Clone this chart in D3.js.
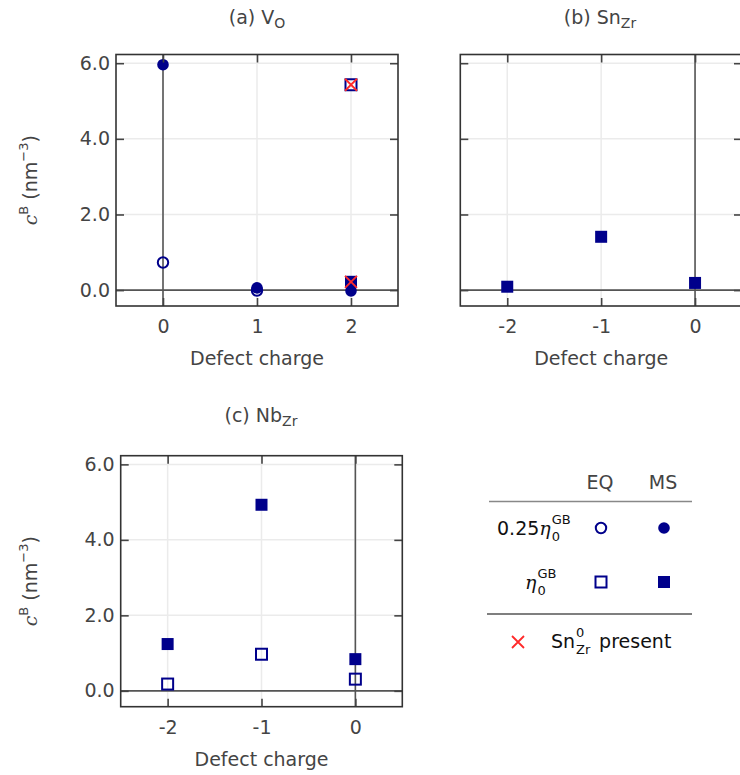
<!DOCTYPE html>
<html>
<head>
<meta charset="utf-8">
<script src="https://cdn.jsdelivr.net/npm/d3@7"></script>
<style>
  body { margin: 0; background: #fff; }
  svg { display: block; font-family: "DejaVu Sans", sans-serif; }
</style>
</head>
<body>
<svg id="chart"></svg>
<script>
// values
const yTicks = [0, 2, 4, 6]

const voCharges = [0, 1, 2]
const voEqQuarter = [0.73, -0.01, null]
const voMsQuarter = [5.96, 0.06, -0.02]
const voEqFull = [null, null, 5.43]
const voMsFull = [null, null, 0.22]
const voSnPresent = [null, null, 5.43]
const voSnPresent2 = [null, null, 0.22]

const snCharges = [-2, -1, 0]
const snMsFull = [0.09, 1.41, 0.19]

const nbCharges = [-2, -1, 0]
const nbEqFull = [0.18, 0.97, 0.31]
const nbMsFull = [1.24, 4.93, 0.84]

const navy = '#00008b'
const red = '#ff2a2a'
const textCol = '#444'
const fs = '19px'
const fsSmall = '13px'

const width = 740
const height = 775
const svg = d3.select('#chart').attr('width', width).attr('height', height)

const drawMarker = (g, kind, cx, cy) => {
    if (kind === 'circle-open') {
        g.append('circle').attr('cx', cx).attr('cy', cy).attr('r', 5.2)
            .attr('fill', 'none').attr('stroke', navy).attr('stroke-width', 2)
    } else if (kind === 'circle') {
        g.append('circle').attr('cx', cx).attr('cy', cy).attr('r', 5.8)
            .attr('fill', navy)
    } else if (kind === 'square-open') {
        g.append('rect').attr('x', cx - 5.5).attr('y', cy - 5.5).attr('width', 11).attr('height', 11)
            .attr('fill', 'none').attr('stroke', navy).attr('stroke-width', 2)
    } else if (kind === 'square') {
        g.append('rect').attr('x', cx - 6).attr('y', cy - 6).attr('width', 12).attr('height', 12)
            .attr('fill', navy)
    } else if (kind === 'cross') {
        g.append('path').attr('d', `M${cx-6},${cy-6}L${cx+6},${cy+6}M${cx-6},${cy+6}L${cx+6},${cy-6}`)
            .attr('stroke', red).attr('stroke-width', 1.8).attr('fill', 'none')
    }
}

const drawPanel = (p) => {
    const xScale = d3.scaleLinear().domain(p.xDomain).range([p.left, p.right])
    const yScale = d3.scaleLinear().domain([-0.42, 6.23]).range([p.bottom, p.top])
    const g = svg.append('g')

    // grid
    g.selectAll('.gx').data(p.xTicks).enter().append('line')
        .attr('x1', d => xScale(d)).attr('x2', d => xScale(d))
        .attr('y1', p.top).attr('y2', p.bottom)
        .attr('stroke', '#ebebeb').attr('stroke-width', 1.5)
    g.selectAll('.gy').data(yTicks).enter().append('line')
        .attr('x1', p.left).attr('x2', p.right)
        .attr('y1', d => yScale(d)).attr('y2', d => yScale(d))
        .attr('stroke', '#ebebeb').attr('stroke-width', 1.5)

    // zero lines
    g.append('line').attr('x1', p.left).attr('x2', p.right)
        .attr('y1', yScale(0)).attr('y2', yScale(0))
        .attr('stroke', '#555').attr('stroke-width', 1.6)
    g.append('line').attr('x1', xScale(0)).attr('x2', xScale(0))
        .attr('y1', p.top).attr('y2', p.bottom)
        .attr('stroke', '#555').attr('stroke-width', 1.6)

    // markers
    p.series.forEach(s => {
        s.values.forEach((v, i) => {
            if (v === null) return
            drawMarker(g, s.kind, xScale(p.charges[i]), yScale(v))
        })
    })

    // axes with inward ticks
    const fmtX = d => String(d)
    const bottom = g.append('g').attr('transform', `translate(0,${p.bottom})`)
        .call(d3.axisBottom(xScale).tickValues(p.xTicks).tickFormat(fmtX).tickSizeInner(-8).tickSizeOuter(0).tickPadding(14))
    const top = g.append('g').attr('transform', `translate(0,${p.top})`)
        .call(d3.axisTop(xScale).tickValues(p.xTicks).tickFormat('').tickSizeInner(-8).tickSizeOuter(0))
    const left = g.append('g').attr('transform', `translate(${p.left},0)`)
        .call(d3.axisLeft(yScale).tickValues(yTicks).tickFormat(p.showY ? d3.format('.1f') : '').tickSizeInner(-8).tickSizeOuter(0).tickPadding(6))
    const right = g.append('g').attr('transform', `translate(${p.right},0)`)
        .call(d3.axisRight(yScale).tickValues(yTicks).tickFormat('').tickSizeInner(-8).tickSizeOuter(0))
    ;[bottom, top, left, right].forEach(a => {
        a.select('.domain').remove()
        a.selectAll('line').attr('stroke', '#444').attr('stroke-width', 1.6)
        a.selectAll('text').attr('fill', textCol).style('font-size', fs).style('font-family', '"DejaVu Sans", sans-serif')
    })

    // frame
    g.append('rect').attr('x', p.left).attr('y', p.top)
        .attr('width', p.right - p.left).attr('height', p.bottom - p.top)
        .attr('fill', 'none').attr('stroke', '#333').attr('stroke-width', 1.6)

    // x label
    g.append('text').attr('x', (p.left + p.right) / 2).attr('y', p.bottom + 59)
        .attr('text-anchor', 'middle').attr('fill', textCol).style('font-size', fs)
        .text('Defect charge')

    // y label
    if (p.showY) {
        const yl = g.append('text')
            .attr('transform', `translate(37,${(p.top + p.bottom) / 2}) rotate(-90)`)
            .attr('text-anchor', 'middle').attr('fill', textCol).style('font-size', fs)
        yl.append('tspan').attr('font-style', 'italic').attr('font-family', '"DejaVu Serif", serif').text('c')
        yl.append('tspan').attr('dy', -9).style('font-size', fsSmall).text('B')
        yl.append('tspan').attr('dy', 9).text(' (nm')
        yl.append('tspan').attr('dy', -9).style('font-size', fsSmall).text('\u22123')
        yl.append('tspan').attr('dy', 9).text(')')
    }

    // title
    const t = g.append('text').attr('x', p.titleX).attr('y', p.titleY)
        .attr('text-anchor', 'middle').attr('fill', textCol).style('font-size', fs)
    t.append('tspan').text(p.title[0])
    t.append('tspan').attr('dy', 4).style('font-size', '14px').text(p.title[1])
}

drawPanel({
    left: 116, right: 398, top: 54.5, bottom: 306,
    xDomain: [-0.5, 2.5], xTicks: voCharges, charges: voCharges, showY: true,
    title: ['(a) V', 'O'], titleX: 257, titleY: 24,
    series: [
        { kind: 'circle-open', values: voEqQuarter },
        { kind: 'square-open', values: voEqFull },
        { kind: 'circle', values: voMsQuarter },
        { kind: 'square', values: voMsFull },
        { kind: 'cross', values: voSnPresent },
        { kind: 'cross', values: voSnPresent2 }
    ]
})

drawPanel({
    left: 460.3, right: 742, top: 54.5, bottom: 306,
    xDomain: [-2.5, 0.5], xTicks: snCharges, charges: snCharges, showY: false,
    title: ['(b) Sn', 'Zr'], titleX: 600, titleY: 24,
    series: [
        { kind: 'square', values: snMsFull }
    ]
})

drawPanel({
    left: 120.7, right: 402.3, top: 455.7, bottom: 706.7,
    xDomain: [-2.5, 0.5], xTicks: nbCharges, charges: nbCharges, showY: true,
    title: ['(c) Nb', 'Zr'], titleX: 261, titleY: 422,
    series: [
        { kind: 'square-open', values: nbEqFull },
        { kind: 'square', values: nbMsFull }
    ]
})

// legend table
const lg = svg.append('g')
lg.append('text').attr('x', 600).attr('y', 489).attr('text-anchor', 'middle')
    .attr('fill', textCol).style('font-size', fs).text('EQ')
lg.append('text').attr('x', 663).attr('y', 489).attr('text-anchor', 'middle')
    .attr('fill', textCol).style('font-size', fs).text('MS')
lg.append('line').attr('x1', 489).attr('x2', 692).attr('y1', 501.5).attr('y2', 501.5)
    .attr('stroke', '#888').attr('stroke-width', 1.5)
lg.append('line').attr('x1', 487).attr('x2', 692).attr('y1', 614).attr('y2', 614)
    .attr('stroke', '#555').attr('stroke-width', 1.5)

// text with stacked super/subscript
const stacked = (xLeft, y, main, sub, sup, italicMain) => {
    const m = lg.append('text').attr('x', xLeft).attr('y', y).attr('fill', '#111').style('font-size', fs)
    m.append('tspan').text(main[0])
    const it = m.append('tspan').text(main[1])
    if (italicMain) it.attr('font-style', 'italic').attr('font-family', '"DejaVu Serif", serif')
    const w = m.node().getComputedTextLength()
    lg.append('text').attr('x', xLeft + w + 1).attr('y', y + 6).attr('fill', '#111').style('font-size', fsSmall).text(sub)
    lg.append('text').attr('x', xLeft + w + 1).attr('y', y - 11).attr('fill', '#111').style('font-size', fsSmall).text(sup)
    return w
}
stacked(497, 535, ['0.25', '\u03b7'], '0', 'GB', true)
stacked(525, 589, ['', '\u03b7'], '0', 'GB', true)
drawMarker(lg, 'circle-open', 601, 528)
drawMarker(lg, 'circle', 664, 528)
drawMarker(lg, 'square-open', 601, 582)
drawMarker(lg, 'square', 664, 582)
drawMarker(lg, 'cross', 518, 642)
const snW = stacked(551, 648, ['Sn', ''], 'Zr', '0', false)
lg.append('text').attr('x', 551 + snW + 24).attr('y', 648).attr('fill', '#111').style('font-size', fs).text('present')
</script>
</body>
</html>
